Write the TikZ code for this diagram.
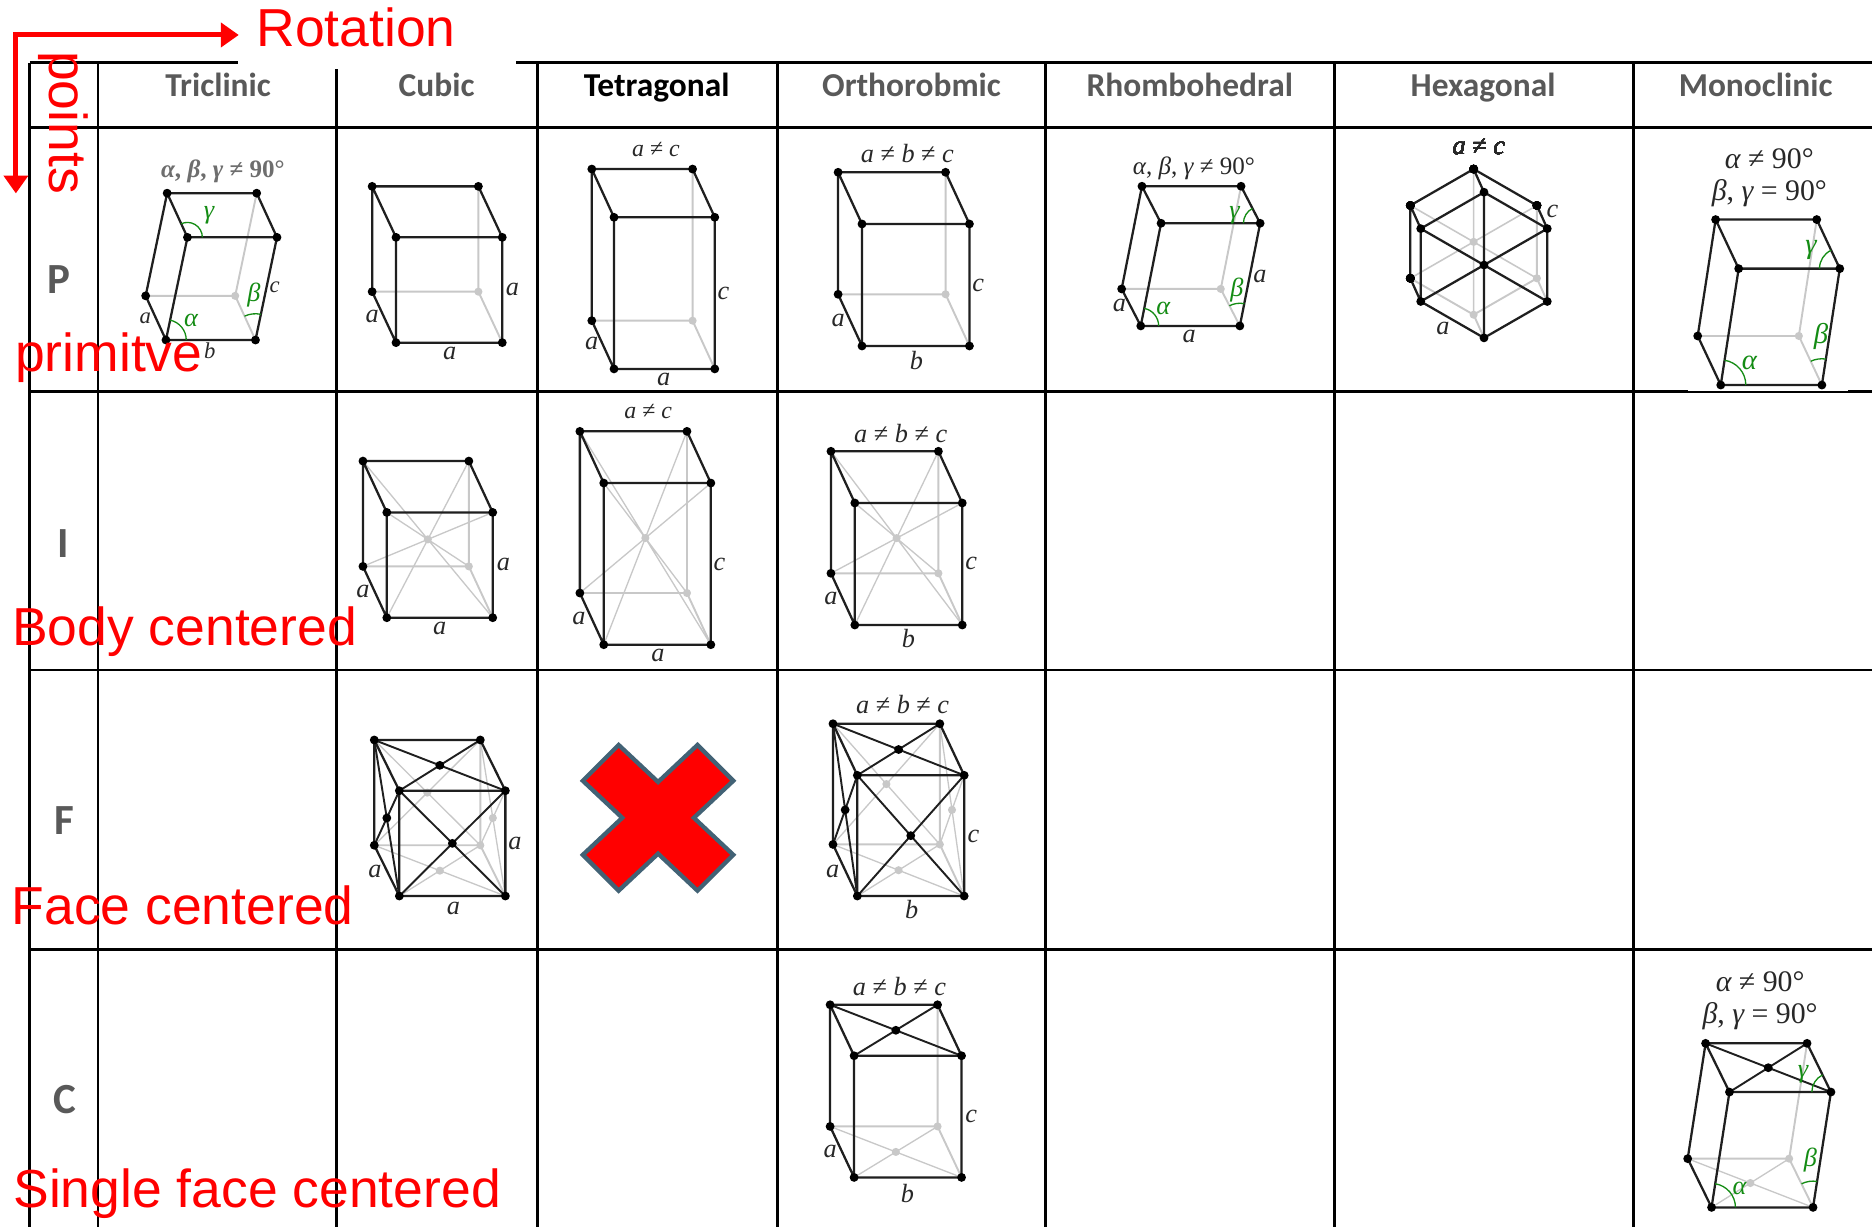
\documentclass[tikz,border=0pt]{standalone}
\usepackage{fontspec}
\newfontfamily\hdrfont{Carlito}
\newfontfamily\redfont{Liberation Sans}
\newfontfamily\lblfont{Liberation Serif}
\usetikzlibrary{calc,arrows.meta}
\definecolor{hdrgray}{RGB}{89,89,89}
\definecolor{hidg}{RGB}{200,200,200}
\definecolor{lblc}{RGB}{40,40,40}
\definecolor{anggreen}{RGB}{20,140,20}
\definecolor{xborder}{RGB}{66,98,117}
\definecolor{tgray}{RGB}{110,110,110}

\newcommand\il[1]{{\itshape #1}}
\newcommand\latbox[5]{%
  \coordinate (#1fbl) at (#2);
  \coordinate (#1fbr) at ($(#2)+(#3)$);
  \coordinate (#1ftl) at ($(#2)+(#4)$);
  \coordinate (#1ftr) at ($(#2)+(#3)+(#4)$);
  \coordinate (#1bbl) at ($(#2)+(#5)$);
  \coordinate (#1bbr) at ($(#2)+(#3)+(#5)$);
  \coordinate (#1btl) at ($(#2)+(#4)+(#5)$);
  \coordinate (#1btr) at ($(#2)+(#3)+(#4)+(#5)$);
}
\newcommand\gdot[1]{\fill[hidg] (#1) circle[radius=3.4pt];}
\newcommand\bdot[1]{\fill[black] (#1) circle[radius=3.7pt];}
\newcommand\hidbox[1]{\draw[edgeg] (#1bbl)--(#1bbr)--(#1btr) (#1bbr)--(#1fbr);\gdot{#1bbr}}
\newcommand\visbox[1]{\draw[edgeb] (#1fbl)--(#1fbr)--(#1ftr)--(#1ftl)--cycle (#1ftl)--(#1btl)--(#1btr)--(#1ftr) (#1fbl)--(#1bbl)--(#1btl);}
\newcommand\dotsbox[1]{\foreach \v in {fbl,fbr,ftl,ftr,bbl,btl,btr}{\bdot{#1\v}}}
\newcommand\bodyc[1]{\draw[diagg] (#1fbl)--(#1btr) (#1fbr)--(#1btl) (#1ftl)--(#1bbr) (#1ftr)--(#1bbl);\gdot{$(#1fbl)!0.5!(#1btr)$}}
\newcommand\facecg[1]{\draw[diagg] (#1bbl)--(#1btr) (#1bbr)--(#1btl) (#1fbl)--(#1bbr) (#1fbr)--(#1bbl) (#1fbr)--(#1btr) (#1ftr)--(#1bbr);
  \gdot{$(#1bbl)!0.5!(#1btr)$}\gdot{$(#1fbl)!0.5!(#1bbr)$}\gdot{$(#1fbr)!0.5!(#1btr)$}}
\newcommand\facecb[1]{\draw[edgeb,line width=1.6pt] (#1ftl)--(#1btr) (#1ftr)--(#1btl) (#1fbl)--(#1ftr) (#1fbr)--(#1ftl) (#1fbl)--(#1btl) (#1ftl)--(#1bbl);
  \bdot{$(#1ftl)!0.5!(#1btr)$}\bdot{$(#1fbl)!0.5!(#1ftr)$}\bdot{$(#1fbl)!0.5!(#1btl)$}}
\newcommand\basecg[1]{\draw[diagg] (#1fbl)--(#1bbr) (#1fbr)--(#1bbl);\gdot{$(#1fbl)!0.5!(#1bbr)$}}
\newcommand\basecb[1]{\draw[edgeb,line width=1.6pt] (#1ftl)--(#1btr) (#1ftr)--(#1btl);\bdot{$(#1ftl)!0.5!(#1btr)$}}
\newcommand\angarc[4]{\draw[arcg] ([shift={(#2:#4)}]#1) arc[start angle=#2,end angle=#3,radius=#4];}

\begin{document}
\begin{tikzpicture}[x=1pt,y=-1pt,
  tline/.style={line width=2.3pt,black},
  edgeb/.style={line width=1.9pt,black!88,line join=round,line cap=round},
  edgeg/.style={line width=1.6pt,hidg,line cap=round},
  diagg/.style={line width=1.1pt,hidg},
  hdr/.style={font=\hdrfont\bfseries\fontsize{28}{32}\selectfont,text=hdrgray,anchor=base,inner sep=0pt},
  rowlbl/.style={font=\hdrfont\bfseries\fontsize{36}{40}\selectfont,text=hdrgray,anchor=base,inner sep=0pt},
  redlbl/.style={font=\redfont\fontsize{44.8}{50}\selectfont,text=red,inner sep=0pt},
  lbl/.style={text=lblc,inner sep=0pt,font=\lblfont\fontsize{22}{26}\selectfont},
  slbl/.style={text=lblc,inner sep=0pt,font=\lblfont\fontsize{19}{22}\selectfont},
  mlbl/.style={text=lblc,inner sep=0pt,font=\lblfont\fontsize{25}{29}\selectfont},
  glbl/.style={text=anggreen,inner sep=0pt,font=\lblfont\itshape\fontsize{22}{26}\selectfont},
  arcg/.style={draw=anggreen,line width=1.1pt},
  redarrow/.style={draw=red,line width=4.2pt,line join=miter}
]
\fill[white] (0,0) rectangle (1568,1027.9);
\useasboundingbox (0,0) rectangle (1568,1027.9);

% ---------- table ----------
\draw[tline] (25,52.5) -- (1568,52.5);
\foreach \x in {25,82,282,450,651,876,1118,1368} \draw[tline] (\x,52.5) -- (\x,1028);
\foreach \y in {106.9,328.1,561.2,795.5} \draw[tline] (25,\y) -- (1568,\y);
\fill[white] (199,0) rectangle (432,57.8);
\fill[white] (1414,325) rectangle (1548,327.6);

% ---------- headers ----------
\node[hdr] (hTri) at (182.7,81) {Triclinic};
\node[hdr] (hCub) at (365.7,81) {Cubic};
\node[hdr,text=black] (hTet) at (550,81) {Tetragonal};
\node[hdr] (hOrt) at (763.5,81) {Orthorobmic};
\node[hdr] (hRho) at (996.5,81) {Rhombohedral};
\node[hdr] (hHex) at (1242.3,81) {Hexagonal};
\node[hdr] (hMon) at (1470.5,81) {Monoclinic};
\node[rowlbl] (rP) at (49,245.7) {P};
\node[rowlbl] (rI) at (53.3,466.8) {I};
\node[rowlbl] (rF) at (53.5,698.6) {F};
\node[rowlbl] (rC) at (54.3,933) {C};

% ---------- Triclinic P ----------
\latbox{tr}{139,284.8}{75,0}{18,-86}{-17,-37}
\hidbox{tr}\visbox{tr}\dotsbox{tr}
\angarc{trftl}{0}{114.7}{12.5pt}
\angarc{trfbl}{0}{78.2}{17pt}
\angarc{trfbr}{78.2}{114.7}{22pt}
\node[text=tgray,inner sep=0pt,font=\lblfont\bfseries\fontsize{21}{24}\selectfont] (trT) at (186.7,143.8) {\il{α}, \il{β}, \il{γ} ≠ 90°};
\node[glbl] (trG) at (175,180) {γ};
\node[glbl] (trB) at (212.7,247) {β};
\node[glbl] (trA) at (160,268.6) {α};
\node[slbl] (trc) at (230,240.7) {\il{c}};
\node[slbl] (tra) at (121.7,266.6) {\il{a}};
\node[slbl] (trb) at (175.7,293.7) {\il{b}};

% ---------- Cubic P ----------
\latbox{cp}{331.7,287}{89,0}{0,-88.2}{-20,-42.7}
\hidbox{cp}\visbox{cp}\dotsbox{cp}
\node[lbl] (cpa1) at (429.3,242.3) {\il{a}};
\node[lbl] (cpa2) at (311.7,265.2) {\il{a}};
\node[lbl] (cpa3) at (376.7,296) {\il{a}};

% ---------- Tetragonal P ----------
\latbox{tp}{514.3,309}{84.4,0}{0,-127}{-18.6,-40.4}
\hidbox{tp}\visbox{tp}\dotsbox{tp}
\node[lbl,font=\lblfont\fontsize{20}{24}\selectfont] (tpT) at (549.4,125.6) {\il{a} ≠ \il{c}};
\node[lbl] (tpc) at (606,245.7) {\il{c}};
\node[lbl] (tpa1) at (556,317.7) {\il{a}};
\node[lbl] (tpa2) at (495.7,287.6) {\il{a}};

% ---------- Orthorhombic P ----------
\latbox{op}{722,289.8}{90,0}{0,-102.2}{-20,-43.3}
\hidbox{op}\visbox{op}\dotsbox{op}
\node[lbl] (opT) at (760,129) {\il{a} ≠ \il{b} ≠ \il{c}};
\node[lbl] (opc) at (819.4,238.7) {\il{c}};
\node[lbl] (opa) at (702,268) {\il{a}};
\node[lbl] (opb) at (767.7,302) {\il{b}};

% ---------- Rhombohedral P ----------
\latbox{rh}{955.5,273}{83,0}{17,-86}{-16,-31}
\hidbox{rh}\visbox{rh}\dotsbox{rh}
\angarc{rhftr}{117.3}{180}{14pt}
\angarc{rhfbl}{0}{78.8}{15pt}
\angarc{rhfbr}{78.8}{117.3}{19pt}
\node[lbl,font=\lblfont\fontsize{21}{24}\selectfont] (rhT) at (1000,141) {\il{α}, \il{β}, \il{γ} ≠ 90°};
\node[glbl] (rhG) at (1034,180) {γ};
\node[glbl] (rhB) at (1036,243) {β};
\node[glbl] (rhA) at (974.3,258.3) {α};
\node[lbl] (rha1) at (1055.3,231.7) {\il{a}};
\node[lbl] (rha2) at (937.7,255.5) {\il{a}};
\node[lbl] (rha3) at (996,282) {\il{a}};

% ---------- Hexagonal P ----------
\coordinate (hF1) at (1243,161);
\coordinate (hF2) at (1296,191.5);
\coordinate (hF3) at (1296,252.5);
\coordinate (hF4) at (1243,283);
\coordinate (hF5) at (1190,252.5);
\coordinate (hF6) at (1190,191.5);
\coordinate (hFC) at (1243,222);
\foreach \i in {1,...,6,C} \coordinate (hB\i) at ($(hF\i)+(-8.7,-19.4)$);
\draw[edgeg] (hB5)--(hB4)--(hB3)--(hB2) (hF3)--(hB3) (hF4)--(hB4);
\draw[diagg,line width=1.3pt] (hB1)--(hB4) (hB2)--(hB5) (hB6)--(hB3);
\gdot{hBC}\gdot{hB3}\gdot{hB4}
\draw[edgeb] (hF1)--(hF2)--(hF3)--(hF4)--(hF5)--(hF6)--cycle
  (hF1)--(hF4) (hF2)--(hF5) (hF6)--(hF3)
  (hB6)--(hB1)--(hB2) (hB6)--(hB5)
  (hF1)--(hB1) (hF2)--(hB2) (hF6)--(hB6) (hF5)--(hB5);
\foreach \i in {1,...,6,C} \bdot{hF\i}
\foreach \i in {1,2,5,6} \bdot{hB\i}
\node[lbl] (hxT) at (1238.6,122.8) {\il{a} ≠ \il{c}};
\node[lbl] (hxc) at (1300.3,177.3) {\il{c}};
\node[lbl] (hxa) at (1208.6,275) {\il{a}};

% ---------- Monoclinic P ----------
\latbox{mp}{1441.3,322.5}{84.7,0}{15,-97.5}{-19.3,-41.1}
\hidbox{mp}\visbox{mp}\dotsbox{mp}
\angarc{mpftr}{115.2}{180}{17pt}
\angarc{mpfbl}{0}{81.3}{21pt}
\angarc{mpfbr}{81.3}{115.2}{22pt}
\node[mlbl] (mpT1) at (1482,132.6) {\il{α} ≠ 90°};
\node[mlbl] (mpT2) at (1482,162) {\il{β}, \il{γ} = 90°};
\node[glbl,font=\lblfont\itshape\fontsize{24}{28}\selectfont] (mpG) at (1517,209.4) {γ};
\node[glbl,font=\lblfont\itshape\fontsize{24}{28}\selectfont] (mpB) at (1525.3,282) {β};
\node[glbl,font=\lblfont\itshape\fontsize{24}{28}\selectfont] (mpA) at (1465.3,304.3) {α};

% ---------- Cubic I ----------
\latbox{ci}{324,517.4}{88.7,0}{0,-88.2}{-20,-43}
\hidbox{ci}\bodyc{ci}\visbox{ci}\dotsbox{ci}
\node[lbl] (cia1) at (421.7,472.4) {\il{a}};
\node[lbl] (cia2) at (304,495.6) {\il{a}};
\node[lbl] (cia3) at (368.3,526.3) {\il{a}};

% ---------- Tetragonal I ----------
\latbox{ti}{505.7,540}{89.7,0}{0,-135.4}{-20,-43.3}
\hidbox{ti}\bodyc{ti}\visbox{ti}\dotsbox{ti}
\node[lbl,font=\lblfont\fontsize{20}{24}\selectfont] (tiT) at (543,345) {\il{a} ≠ \il{c}};
\node[lbl] (tic) at (602.7,472.4) {\il{c}};
\node[lbl] (tia1) at (551,549.2) {\il{a}};
\node[lbl] (tia2) at (485,518) {\il{a}};

% ---------- Orthorhombic I ----------
\latbox{oi}{716,523.5}{90,0}{0,-102.2}{-20,-43.3}
\hidbox{oi}\bodyc{oi}\visbox{oi}\dotsbox{oi}
\node[lbl] (oiT) at (754.4,362.7) {\il{a} ≠ \il{b} ≠ \il{c}};
\node[lbl] (oic) at (813.4,471.6) {\il{c}};
\node[lbl] (oia) at (696,501.2) {\il{a}};
\node[lbl] (oib) at (761,535.2) {\il{b}};

% ---------- Cubic F ----------
\latbox{cf}{334.5,750.5}{88.8,0}{0,-88.2}{-21,-42.5}
\hidbox{cf}\facecg{cf}\visbox{cf}\facecb{cf}\dotsbox{cf}
\node[lbl] (cfa1) at (314.1,730.1) {\il{a}};
\node[lbl] (cfa2) at (431.4,706.4) {\il{a}};
\node[lbl] (cfa3) at (379.7,760.8) {\il{a}};

% ---------- Tetragonal F: not a lattice ----------
\begin{scope}[shift={(551.2,685)}]
\filldraw[fill=red,draw=xborder,line width=3.6pt,line join=miter]
  (-33,-61) -- (0,-30) -- (33,-61) -- (63,-31) -- (30,0) -- (63,31) -- (33,61)
  -- (0,30) -- (-33,61) -- (-63,31) -- (-30,0) -- (-63,-31) -- cycle;
\end{scope}

% ---------- Orthorhombic F ----------
\latbox{of}{718.1,750.5}{89.5,0}{0,-101.1}{-20.4,-43.2}
\hidbox{of}\facecg{of}\visbox{of}\facecb{of}\dotsbox{of}
\node[lbl] (ofT) at (756,589.7) {\il{a} ≠ \il{b} ≠ \il{c}};
\node[lbl] (ofc) at (815.3,700.8) {\il{c}};
\node[lbl] (ofa) at (697.5,730.1) {\il{a}};
\node[lbl] (ofb) at (763.6,762.2) {\il{b}};

% ---------- Orthorhombic C ----------
\latbox{oc}{715.4,986.2}{90,0}{0,-101.9}{-20.1,-42.7}
\hidbox{oc}\basecg{oc}\visbox{oc}\basecb{oc}\dotsbox{oc}
\node[lbl] (ocT) at (753.4,826.2) {\il{a} ≠ \il{b} ≠ \il{c}};
\node[lbl] (occ) at (813.4,935.1) {\il{c}};
\node[lbl] (oca) at (695.3,964.4) {\il{a}};
\node[lbl] (ocb) at (760,999.3) {\il{b}};

% ---------- Monoclinic C ----------
\latbox{mc}{1433.6,1011.3}{85,0}{15,-96.6}{-20,-40.8}
\hidbox{mc}\basecg{mc}\visbox{mc}\basecb{mc}\dotsbox{mc}
\angarc{mcftr}{116.1}{180}{16pt}
\angarc{mcfbl}{0}{81.2}{20pt}
\angarc{mcfbr}{81.2}{116.1}{22pt}
\node[mlbl] (mcT1) at (1474.3,822) {\il{α} ≠ 90°};
\node[mlbl] (mcT2) at (1474.3,851.3) {\il{β}, \il{γ} = 90°};
\node[glbl] (mcG) at (1510.3,900.2) {γ};
\node[glbl] (mcB) at (1516.3,971.4) {β};
\node[glbl] (mcA) at (1457,995.1) {α};

% ---------- red annotations ----------
\coordinate (corner) at (13.3,29.3);
\coordinate (rotTip) at (200,29.3);
\coordinate (ptsTip) at (13.3,162);
\draw[redarrow,{Triangle[length=15pt,width=20pt]}-{Triangle[length=15pt,width=20pt]}] (ptsTip) -- (corner) -- (rotTip);
\node[redlbl,anchor=base west] (rot) at (214.6,39.2) {Rotation};
\node[redlbl,rotate=-90] (pts) at (53,102.6) {points};
\node[redlbl,anchor=base west] (prim) at (12.5,311) {primitve};
\node[redlbl,anchor=base west] (bodyc) at (10,540.8) {Body centered};
\node[redlbl,anchor=base west] (facec) at (9.6,774.5) {Face centered};
\node[redlbl,anchor=base west] (sfc) at (11,1011.3) {Single face centered};
\end{tikzpicture}
\end{document}
